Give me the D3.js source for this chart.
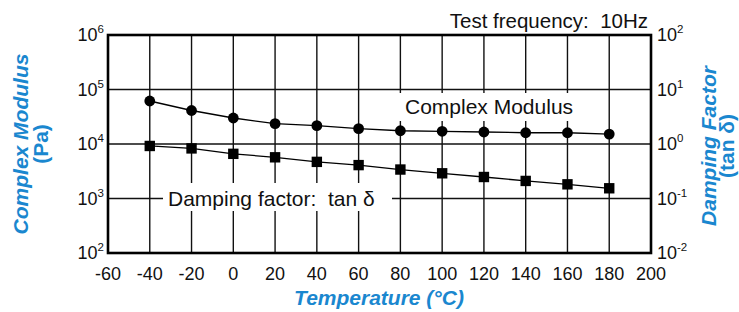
<!DOCTYPE html>
<html><head><meta charset="utf-8">
<script src="https://cdn.jsdelivr.net/npm/d3@7"></script>
<style>
body{margin:0;background:#fff;}
svg{display:block;font-family:"Liberation Sans",Arial,Helvetica,sans-serif;}
</style></head><body>
<svg id="c" width="739" height="312"></svg>
<script>
const temperatures = [-40,-20,0,20,40,60,80,100,120,140,160,180];
const complexModulus = [61500,41200,30000,23600,21700,19100,17500,17100,16600,16100,16100,15200];
const tanDelta = [0.92,0.83,0.66,0.57,0.47,0.41,0.34,0.29,0.248,0.21,0.182,0.154];
const xTicks = [-60,-40,-20,0,20,40,60,80,100,120,140,160,180,200];
const leftExps = [2,3,4,5,6];
const rightExps = [-2,-1,0,1,2];

const blue = "#1a87cf";
const svg = d3.select("#c");
const L=108, R=651, T=35, B=253;
const x = d3.scaleLinear().domain([-60,200]).range([L,R]);
const yL = d3.scaleLog().domain([1e2,1e6]).range([B,T]);
const yR = d3.scaleLog().domain([1e-2,1e2]).range([B,T]);

// grid
const g = svg.append("g");
g.selectAll("line.v").data(xTicks.slice(1,-1)).enter().append("line")
 .attr("x1",d=>x(d)).attr("x2",d=>x(d)).attr("y1",T).attr("y2",B)
 .attr("stroke","#111").attr("stroke-width",1.4);
g.selectAll("line.h").data([1e3,1e4,1e5]).enter().append("line")
 .attr("x1",L).attr("x2",R).attr("y1",d=>yL(d)).attr("y2",d=>yL(d))
 .attr("stroke","#111").attr("stroke-width",1.4);

// label boxes
svg.append("rect").attr("x",399).attr("y",93).attr("width",179).attr("height",28).attr("fill","#fff");
svg.append("rect").attr("x",163).attr("y",183).attr("width",229).attr("height",28).attr("fill","#fff");

// frame
svg.append("rect").attr("x",L).attr("y",T).attr("width",R-L).attr("height",B-T)
 .attr("fill","none").attr("stroke","#000").attr("stroke-width",2.6);

// x axis labels
svg.append("g").selectAll("text").data(xTicks).enter().append("text")
 .attr("x",d=>x(d)).attr("y",280).attr("text-anchor","middle")
 .attr("font-size",18).attr("fill","#111").text(d=>d);

// left axis labels
const lt = svg.append("g").selectAll("text").data(leftExps).enter().append("text")
 .attr("x",L-4).attr("y",d=>yL(Math.pow(10,d))+6).attr("text-anchor","end")
 .attr("font-size",18).attr("fill","#111");
lt.append("tspan").text("10");
lt.append("tspan").attr("dy",-8).attr("font-size",11.5).text(d=>d);

// right axis labels
const rt = svg.append("g").selectAll("text").data(rightExps).enter().append("text")
 .attr("x",R+6).attr("y",d=>yR(Math.pow(10,d))+6).attr("text-anchor","start")
 .attr("font-size",18).attr("fill","#111");
rt.append("tspan").text("10");
rt.append("tspan").attr("dy",-8).attr("font-size",11.5).text(d=>d<0?"-"+(-d):d);

// series lines
const lineM = d3.line().x((d,i)=>x(temperatures[i])).y(d=>yL(d));
const lineT = d3.line().x((d,i)=>x(temperatures[i])).y(d=>yR(d));
svg.append("path").attr("d",lineM(complexModulus)).attr("fill","none").attr("stroke","#000").attr("stroke-width",1.3);
svg.append("path").attr("d",lineT(tanDelta)).attr("fill","none").attr("stroke","#000").attr("stroke-width",1.3);
svg.append("g").selectAll("circle").data(complexModulus).enter().append("circle")
 .attr("cx",(d,i)=>x(temperatures[i])).attr("cy",d=>yL(d)).attr("r",5.4).attr("fill","#000");
svg.append("g").selectAll("rect").data(tanDelta).enter().append("rect")
 .attr("x",(d,i)=>x(temperatures[i])-5.2).attr("y",d=>yR(d)-5.2).attr("width",10.4).attr("height",10.4).attr("fill","#000");

// in-plot labels
svg.append("text").attr("x",405).attr("y",114).attr("font-size",21).attr("fill","#111").text("Complex Modulus");
svg.append("text").attr("x",168).attr("y",206).attr("font-size",21).attr("fill","#111").attr("xml:space","preserve").text("Damping factor:  tan \u03b4");
svg.append("text").attr("x",648).attr("y",28).attr("text-anchor","end").attr("font-size",20.5).attr("fill","#111").attr("xml:space","preserve").text("Test frequency:  10Hz");

// axis titles
svg.append("text").attr("x",379).attr("y",305).attr("text-anchor","middle")
 .attr("font-size",21).attr("font-weight","bold").attr("font-style","italic").attr("fill",blue)
 .text("Temperature (°C)");
const lT = svg.append("text").attr("transform","translate(0,144) rotate(-90)").attr("text-anchor","middle")
 .attr("font-size",21).attr("font-weight","bold").attr("fill",blue);
lT.append("tspan").attr("x",0).attr("y",28).attr("font-style","italic").text("Complex Modulus");
lT.append("tspan").attr("x",0).attr("y",48).text("(Pa)");
const rT = svg.append("text").attr("transform","translate(0,146) rotate(-90)").attr("text-anchor","middle")
 .attr("font-size",21).attr("font-weight","bold").attr("fill",blue);
rT.append("tspan").attr("x",0).attr("y",716).attr("font-style","italic").text("Damping Factor");
rT.append("tspan").attr("x",0).attr("y",734).text("(tan \u03b4)");
</script>
</body></html>
